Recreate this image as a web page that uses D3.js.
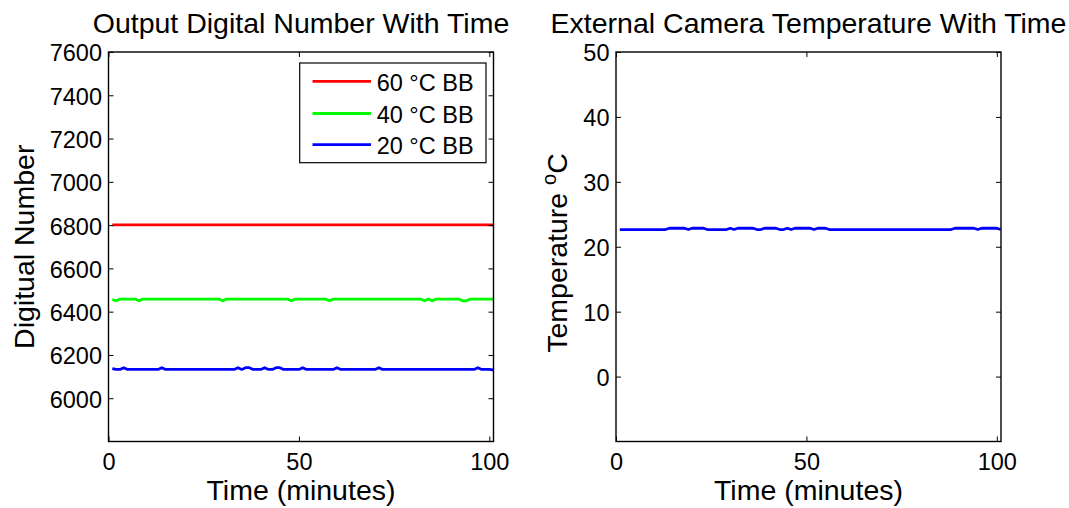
<!DOCTYPE html>
<html>
<head>
<meta charset="utf-8">
<script src="https://cdn.jsdelivr.net/npm/d3@7"></script>
<style>
  html, body { margin: 0; padding: 0; background: #fff; }
  svg { display: block; }
  text { font-family: "Liberation Sans", Arial, Helvetica, sans-serif; fill: #000; }
</style>
</head>
<body>
<svg id="chart" width="1069" height="508"></svg>
<script>
// ---------------- DATA ----------------
const timeMinutes = [
  1,2,3,4,5,6,7,8,9,10,
  11,12,13,14,15,16,17,18,19,20,
  21,22,23,24,25,26,27,28,29,30,
  31,32,33,34,35,36,37,38,39,40,
  41,42,43,44,45,46,47,48,49,50,
  51,52,53,54,55,56,57,58,59,60,
  61,62,63,64,65,66,67,68,69,70,
  71,72,73,74,75,76,77,78,79,80,
  81,82,83,84,85,86,87,88,89,90,
  91,92,93,94,95,96,97,98,99,100,
  101
];

const bb60 = [
  6801,6801,6801,6801,6801,6801,6801,6801,6801,6801,
  6801,6801,6801,6801,6801,6801,6801,6801,6801,6801,
  6801,6801,6801,6801,6801,6801,6801,6801,6801,6801,
  6801,6801,6801,6801,6801,6801,6801,6801,6801,6801,
  6801,6801,6801,6801,6801,6801,6801,6801,6801,6801,
  6801,6801,6801,6801,6801,6801,6801,6801,6801,6801,
  6801,6801,6801,6801,6801,6801,6801,6801,6801,6801,
  6801,6801,6801,6801,6801,6801,6801,6801,6801,6801,
  6801,6801,6801,6801,6801,6801,6801,6801,6801,6801,
  6801,6801,6801,6801,6801,6801,6801,6801,6801,6801,
  6801
];

const bb40 = [
  6456,6450,6458,6458,6458,6458,6458,6450,6458,6458,
  6458,6458,6458,6458,6458,6458,6458,6458,6458,6458,
  6458,6458,6458,6458,6458,6458,6458,6458,6458,6450,
  6458,6458,6458,6458,6458,6458,6458,6458,6458,6458,
  6458,6458,6458,6458,6458,6458,6458,6450,6458,6458,
  6458,6458,6458,6458,6458,6458,6458,6450,6458,6458,
  6458,6458,6458,6458,6458,6458,6458,6458,6458,6458,
  6458,6458,6458,6458,6458,6458,6458,6458,6458,6458,
  6458,6458,6450,6458,6450,6458,6458,6458,6458,6458,
  6458,6458,6450,6450,6458,6458,6458,6458,6458,6458,
  6458
];

const bb20 = [
  6137,6133,6133,6141,6133,6133,6133,6133,6133,6133,
  6133,6133,6133,6141,6133,6133,6133,6133,6133,6133,
  6133,6133,6133,6133,6133,6133,6133,6133,6133,6133,
  6133,6133,6133,6141,6133,6141,6141,6133,6133,6133,
  6141,6133,6133,6141,6141,6133,6133,6133,6133,6133,
  6141,6133,6133,6133,6133,6133,6133,6133,6133,6141,
  6133,6133,6133,6133,6133,6133,6133,6133,6133,6133,
  6141,6133,6133,6133,6133,6133,6133,6133,6133,6133,
  6133,6133,6133,6133,6133,6133,6133,6133,6133,6133,
  6133,6133,6133,6133,6133,6133,6141,6133,6133,6133,
  6131
];

const cameraTemp = [
  22.65,22.65,22.65,22.65,22.65,22.65,22.65,22.65,22.65,22.65,
  22.65,22.65,22.65,22.85,22.85,22.85,22.85,22.85,22.65,22.85,
  22.85,22.85,22.85,22.65,22.65,22.65,22.65,22.65,22.65,22.85,
  22.65,22.85,22.85,22.85,22.85,22.85,22.65,22.65,22.85,22.85,
  22.85,22.85,22.65,22.65,22.85,22.65,22.85,22.85,22.85,22.85,
  22.85,22.65,22.85,22.85,22.85,22.65,22.65,22.65,22.65,22.65,
  22.65,22.65,22.65,22.65,22.65,22.65,22.65,22.65,22.65,22.65,
  22.65,22.65,22.65,22.65,22.65,22.65,22.65,22.65,22.65,22.65,
  22.65,22.65,22.65,22.65,22.65,22.65,22.65,22.65,22.85,22.85,
  22.85,22.85,22.85,22.85,22.65,22.85,22.85,22.85,22.85,22.85,
  22.65
];

const xTicks = [0, 50, 100];
const yTicksLeft = [6000, 6200, 6400, 6600, 6800, 7000, 7200, 7400, 7600];
const yTicksRight = [0, 10, 20, 30, 40, 50];
const seriesNames = ["60 \u00B0C BB", "40 \u00B0C BB", "20 \u00B0C BB"];
const seriesColors = ["#ff0000", "#00ff00", "#0000ff"];

// ---------------- LAYOUT ----------------
const svg = d3.select("#chart");
const TOP = 52, BOTTOM = 441.5;
const TICK_FONT = "23.5px", LABEL_FONT = "28.5px";
const LINE_W = 2.8;
const fmt = d3.format("d");

function drawPanel(opt) {
  const g = svg.append("g");
  const x = d3.scaleLinear().domain([0, 101.1]).range([opt.x0, opt.x1]);
  const y = d3.scaleLinear().domain(opt.yDomain).range([BOTTOM, TOP]);

  g.append("rect")
    .attr("x", opt.x0).attr("y", TOP)
    .attr("width", opt.x1 - opt.x0).attr("height", BOTTOM - TOP)
    .attr("fill", "#fff");

  const line = d3.line().x(d => x(d[0])).y(d => y(d[1]));
  opt.series.forEach((s, i) => {
    g.append("path")
      .datum(timeMinutes.map((t, k) => [t, s[k]]))
      .attr("fill", "none")
      .attr("stroke", opt.colors[i])
      .attr("stroke-width", LINE_W)
      .attr("stroke-linejoin", "round")
      .attr("d", line);
  });

  const style = sel => {
    sel.select(".domain").remove();
    sel.selectAll(".tick line").attr("stroke", "#000").attr("stroke-width", 1);
    sel.selectAll(".tick text")
      .attr("font-size", TICK_FONT)
      .attr("font-family", '"Liberation Sans", Arial, sans-serif')
      .attr("fill", "#000");
    sel.attr("font-size", null).attr("font-family", null);
  };

  g.append("g").attr("transform", `translate(0,${BOTTOM})`)
    .call(d3.axisBottom(x).tickValues(xTicks).tickFormat(fmt).tickSizeInner(-5).tickSizeOuter(0).tickPadding(12))
    .call(style);
  g.append("g").attr("transform", `translate(0,${TOP})`)
    .call(d3.axisTop(x).tickValues(xTicks).tickSizeInner(-5).tickSizeOuter(0).tickFormat(""))
    .call(style);
  g.append("g").attr("transform", `translate(${opt.x0},0)`)
    .call(d3.axisLeft(y).tickValues(opt.yTicks).tickFormat(fmt).tickSizeInner(-5).tickSizeOuter(0).tickPadding(6.5))
    .call(style)
    .selectAll(".tick text").attr("dy", "0.38em");
  g.append("g").attr("transform", `translate(${opt.x1},0)`)
    .call(d3.axisRight(y).tickValues(opt.yTicks).tickSizeInner(-5).tickSizeOuter(0).tickFormat(""))
    .call(style);

  g.append("rect")
    .attr("x", opt.x0).attr("y", TOP)
    .attr("width", opt.x1 - opt.x0).attr("height", BOTTOM - TOP)
    .attr("fill", "none").attr("stroke", "#000").attr("stroke-width", 1.4);

  const cx = (opt.x0 + opt.x1) / 2;
  g.append("text").attr("x", cx).attr("y", 33)
    .attr("text-anchor", "middle").attr("font-size", LABEL_FONT)
    .text(opt.title);
  g.append("text").attr("x", cx).attr("y", 500)
    .attr("text-anchor", "middle").attr("font-size", LABEL_FONT)
    .text("Time (minutes)");
  const yl = g.append("text")
    .attr("transform", `translate(${opt.yLabelX},${opt.yLabelY}) rotate(-90)`)
    .attr("text-anchor", "middle").attr("font-size", LABEL_FONT);
  opt.yLabel(yl);

  return {g, x, y};
}

const left = drawPanel({
  x0: 108.5, x1: 493.5,
  yDomain: [5800, 7600], yTicks: yTicksLeft,
  series: [bb60, bb40, bb20], colors: seriesColors,
  title: "Output Digital Number With Time",
  yLabelX: 34, yLabelY: 246.75,
  yLabel: t => t.text("Digitual Number")
});

drawPanel({
  x0: 616, x1: 1001,
  yDomain: [-10, 50], yTicks: yTicksRight,
  series: [cameraTemp], colors: ["#0000ff"],
  title: "External Camera Temperature With Time",
  yLabelX: 567, yLabelY: 253,
  yLabel: t => {
    t.append("tspan").text("Temperature ");
    t.append("tspan").attr("font-size", "20px").attr("dy", "-11").text("o");
    t.append("tspan").attr("dy", "11").text("C");
  }
});

// ---------------- LEGEND ----------------
const lg = left.g.append("g");
lg.append("rect")
  .attr("x", 299.7).attr("y", 63).attr("width", 186.3).attr("height", 99.7)
  .attr("fill", "#fff").attr("stroke", "#000").attr("stroke-width", 1.2);
const rowY = [81.4, 113.5, 144.6];
seriesNames.forEach((name, i) => {
  lg.append("line")
    .attr("x1", 312.5).attr("x2", 371).attr("y1", rowY[i]).attr("y2", rowY[i])
    .attr("stroke", seriesColors[i]).attr("stroke-width", LINE_W);
  lg.append("text")
    .attr("x", 376.7).attr("y", rowY[i] + 9.5)
    .attr("font-size", TICK_FONT)
    .text(name);
});
</script>
</body>
</html>
